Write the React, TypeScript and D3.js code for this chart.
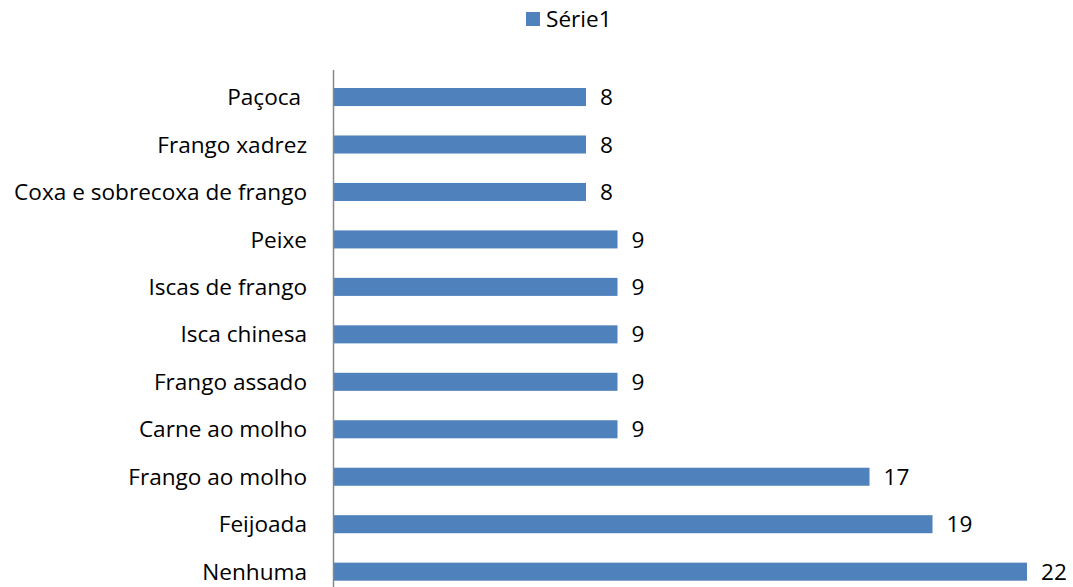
import { useEffect, useRef } from 'react';
import * as d3 from 'd3';

const categories = [
  'Paçoca ',
  'Frango xadrez',
  'Coxa e sobrecoxa de frango',
  'Peixe',
  'Iscas de frango',
  'Isca chinesa',
  'Frango assado',
  'Carne ao molho',
  'Frango ao molho',
  'Feijoada',
  'Nenhuma',
];
const values = [8, 8, 8, 9, 9, 9, 9, 9, 17, 19, 22];
const seriesName = 'Série1';

const width = 1073;
const height = 587;
const barColor = '#4F81BD';
const font = '"Open Sans", "Liberation Sans", sans-serif';
const fontSize = 22.6;

export default function App() {
  const svgRef = useRef<SVGSVGElement>(null);

  useEffect(() => {
    if (!svgRef.current) return;
    const svg = d3.select(svgRef.current);
    svg.selectAll('*').remove();

    const x = d3.scaleLinear().domain([0, 22]).range([334, 1027]);
    const y = d3.scaleBand().domain(categories).range([73.3, 548 + 47.4]).paddingInner(0.62).paddingOuter(0.31);

    // bars
    svg.append('g')
      .selectAll('rect')
      .data(categories)
      .enter()
      .append('rect')
      .attr('x', x(0))
      .attr('y', d => y(d)!)
      .attr('width', (_, i) => x(values[i]) - x(0))
      .attr('height', y.bandwidth())
      .attr('fill', barColor);

    // value labels
    svg.append('g')
      .selectAll('text')
      .data(categories)
      .enter()
      .append('text')
      .attr('x', (_, i) => x(values[i]) + 14)
      .attr('y', d => y(d)! + y.bandwidth() / 2)
      .attr('dy', '0.36em')
      .attr('font-family', font)
      .attr('font-size', fontSize)
      .attr('fill', '#000')
      .text((_, i) => String(values[i]));

    // category labels
    svg.append('g')
      .selectAll('text')
      .data(categories)
      .enter()
      .append('text')
      .attr('x', 307)
      .attr('y', d => y(d)! + y.bandwidth() / 2)
      .attr('dy', '0.36em')
      .attr('text-anchor', 'end')
      .attr('xml:space', 'preserve')
      .style('white-space', 'pre')
      .attr('font-family', font)
      .attr('font-size', fontSize)
      .attr('fill', '#000')
      .text(d => d);

    // vertical axis line
    svg.append('line')
      .attr('x1', 333.5)
      .attr('x2', 333.5)
      .attr('y1', 70)
      .attr('y2', height)
      .attr('stroke', '#888')
      .attr('stroke-width', 1.5);

    // legend
    const legend = svg.append('g');
    legend.append('rect')
      .attr('x', 526)
      .attr('y', 12)
      .attr('width', 14)
      .attr('height', 14)
      .attr('fill', barColor);
    legend.append('text')
      .attr('x', 546)
      .attr('y', 27)
      .attr('font-family', font)
      .attr('font-size', fontSize)
      .attr('fill', '#000')
      .text(seriesName);
  }, []);

  return (
    <div style={{ position: 'fixed', left: 0, top: 0, width, height, overflow: 'hidden', background: '#fff' }}>
      <svg ref={svgRef} width={width} height={height}></svg>
    </div>
  );
}
